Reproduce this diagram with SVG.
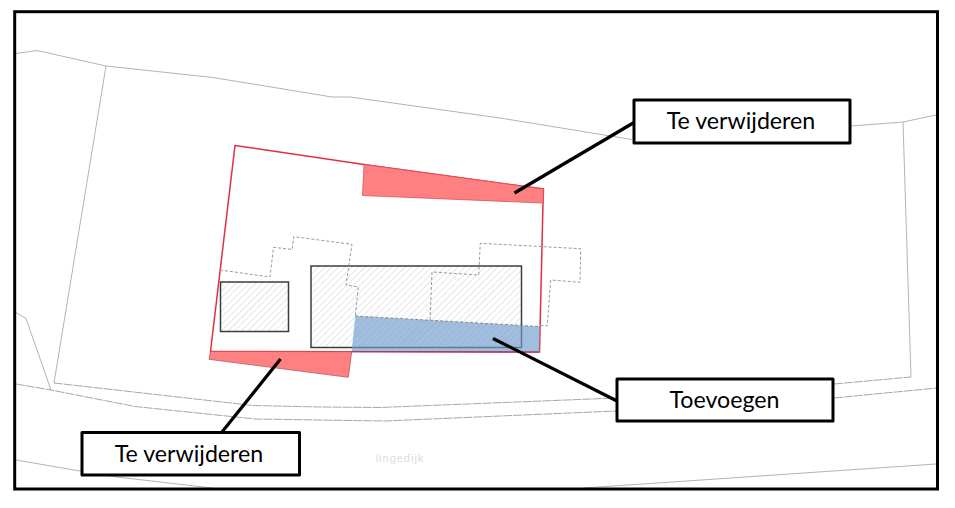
<svg xmlns="http://www.w3.org/2000/svg" width="955" height="508" viewBox="0 0 955 508">
<style>
.parcel{fill:none;stroke:#b4b4b4;stroke-width:1}
.road{fill:none;stroke:#a8a8a8;stroke-width:1;stroke-dasharray:9 1}
.house{fill:none;stroke:#9a9a9a;stroke-width:1;stroke-dasharray:3 2}
.building{fill:url(#hatch);stroke:#3c3c3c;stroke-width:1.5}
.box{fill:#fff;stroke:#000;stroke-width:3;stroke-linejoin:round}
.label{font-family:"Lato","Liberation Sans",sans-serif;font-size:23.2px;fill:#000;text-anchor:middle}
.lead{stroke:#000;stroke-width:3.2;fill:none}
</style>
<defs>
<pattern id="hatch" width="4.7" height="4.7" patternUnits="userSpaceOnUse" patternTransform="rotate(45)">
<rect width="4.7" height="4.7" fill="#fff"/>
<line x1="0" y1="0" x2="0" y2="4.7" stroke="#d8d8d8" stroke-width="1.3"/>
</pattern>
</defs>
<rect width="955" height="508" fill="#fff"/>
<g id="parcels">
<polyline class="parcel" points="16,53.5 37,50.5 106,66 213,77.5 332,97 350,97 500,118 632,139.5"/>
<polyline class="parcel" points="851,126 903,122 936,115"/>
<polyline class="parcel" points="903,122 911,377"/>
<polyline class="parcel" points="106,66 54,383"/>
<polyline class="parcel" points="16,312.5 26,318.5 51,390"/>
<polyline class="road" points="54,383 253,405.5 320,407 380,407.5 616,398"/>
<polyline class="road" points="834,384 911,377"/>
<polyline class="road" points="16,384 51,390 135,406.5 255,419 320,420 385,421 616,411"/>
<polyline class="road" points="834,398 937,388"/>
<polyline class="parcel" points="16,460 80,471 117,477 212,488"/>
<polyline class="parcel" points="584,488 936,464"/>
<text x="400" y="462" font-family="'Liberation Sans',sans-serif" font-size="11" letter-spacing="1" fill="#dcdcdc" text-anchor="middle">lingedijk</text>
</g>
<g id="buildings">
<rect class="building" x="220.5" y="282" width="68" height="49.5"/>
<rect class="building" x="311" y="266" width="210.5" height="81.5"/>
</g>
<g id="areas">
<path d="M235,145.5 L364,164.5 L543.5,189 L543,203 L539.5,352 L210.5,351.5 Z" fill="none" stroke="#e0303f" stroke-width="1.5"/>
<path d="M364,164.5 L543.5,189 L543,203 L362.5,195.5 Z" fill="#ff8080" stroke="#e0505a" stroke-width="0.8"/>
<path d="M210.5,351.5 L351.7,351.7 L348.3,377.3 L209,359.3 Z" fill="#ff8080" stroke="#c05060" stroke-width="0.8"/>
<path d="M355.3,316 L540,326.5 L539.5,352 L351.7,351 Z" fill="#6f9bcc" fill-opacity="0.65"/>
<polyline points="355.3,316 540,326.5" fill="none" stroke="#8a8a8a" stroke-width="1" stroke-dasharray="3 2"/>
<line x1="351.7" y1="351.5" x2="539.5" y2="352" stroke="#a0405a" stroke-width="1.2"/>
</g>
<g id="house-outline">
<polyline class="house" points="220,270 270,277 273.5,247.3 292.3,249.5 293.7,236.7 352,244.3 346,285 358.3,287 355.3,316"/>
<polyline class="house" points="430,320 432,272 478.7,275 480.3,243.3 580.7,248.7 580,282.3 550.7,280 547.3,325.7 540,325.5"/>
</g>
<g id="connectors">
<line class="lead" x1="634" y1="122.5" x2="514.5" y2="193"/>
<line class="lead" x1="222" y1="432" x2="280.5" y2="359"/>
<line class="lead" x1="617" y1="401" x2="493" y2="338.5"/>
</g>
<g id="node-top">
<rect class="box" x="634" y="100" width="216" height="43"/>
<text class="label" x="741" y="129">Te verwijderen</text>
</g>
<g id="node-add">
<rect class="box" x="617" y="379" width="216" height="42"/>
<text class="label" x="724.5" y="408">Toevoegen</text>
</g>
<g id="node-bottom">
<rect class="box" x="82" y="432.5" width="217.5" height="42.5"/>
<text class="label" x="189" y="462">Te verwijderen</text>
</g>
<rect id="frame" x="14.7" y="11.7" width="922.8" height="477.3" fill="none" stroke="#000" stroke-width="3"/>
</svg>
